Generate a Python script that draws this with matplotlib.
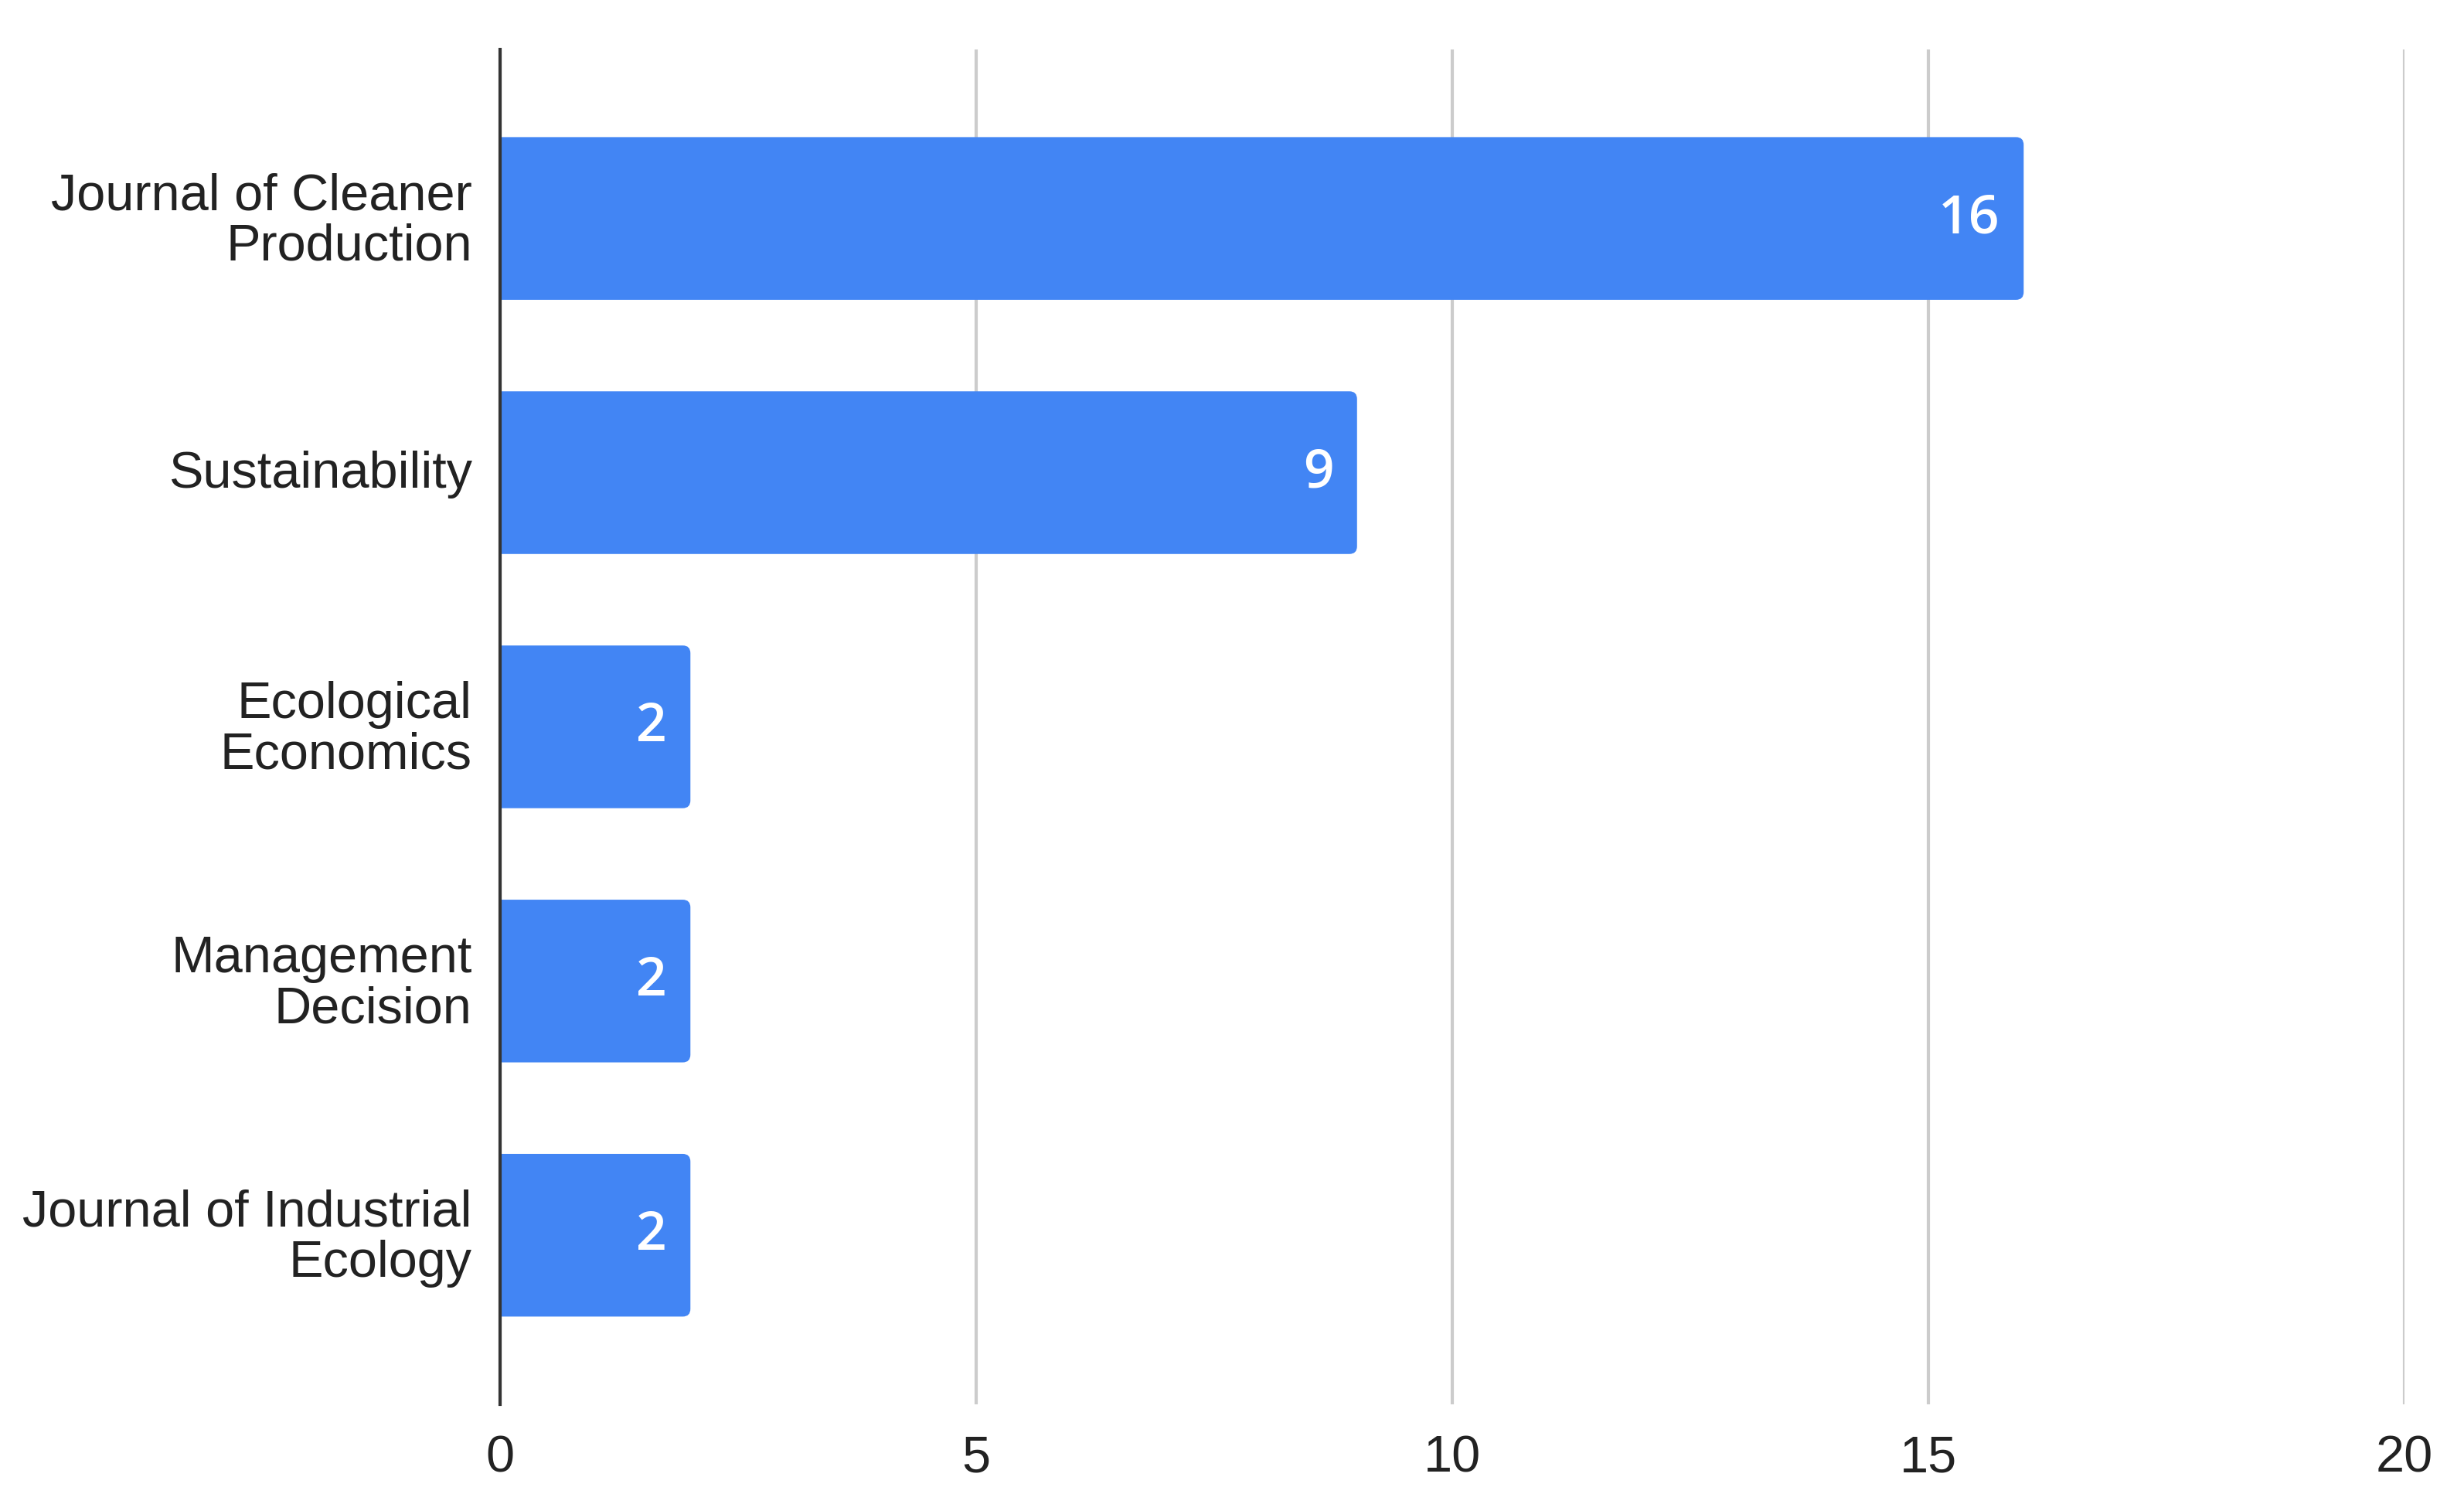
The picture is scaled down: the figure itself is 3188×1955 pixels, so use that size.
import matplotlib.pyplot as plt
import matplotlib.transforms as mtransforms
from matplotlib.patches import FancyBboxPatch

journals = ["Journal of Cleaner\nProduction", "Sustainability", "Ecological\nEconomics",
            "Management\nDecision", "Journal of Industrial\nEcology"]
counts = [16, 9, 2, 2, 2]
xticks = [0, 5, 10, 15, 20]

plt.rcParams['font.family'] = ['Liberation Sans', 'DejaVu Sans']

fig = plt.figure(figsize=(15.94, 9.78), dpi=200)
ax = fig.add_axes([0.2029, 0.0706, 0.773, 0.8962])

ypos = list(range(len(journals)))
bar_h = 0.64
bars = ax.barh(ypos, counts, height=bar_h, color="#4285F4", zorder=3)

# swap plain bars for ones with rounded right corners (left side hidden under the axis)
for b in bars:
    b.set_visible(False)
    x0, y0 = b.get_x(), b.get_y()
    w, h = b.get_width(), b.get_height()
    p = FancyBboxPatch((x0 - 0.2, y0), w + 0.2, h,
                       boxstyle="round,pad=0,rounding_size=0.08",
                       mutation_aspect=0.38, facecolor="#4285F4",
                       edgecolor="none", zorder=3)
    ax.add_patch(p)

for y, v in zip(ypos, counts):
    ax.annotate(str(v), (v, y), xytext=(-11, 0), textcoords="offset points",
                ha="right", va="center", color="white", fontsize=25,
                fontweight="semibold",
                family=["Open Sans", "DejaVu Sans"], zorder=4)

ax.set_xlim(0, 20)
ax.set_ylim(4.665, -0.665)
ax.set_xticks(xticks)
ax.set_yticks(ypos)
ax.set_yticklabels(journals, fontsize=24, linespacing=1.08)
ax.tick_params(axis="x", labelsize=24, length=0, pad=14, colors="#222222")
ax.tick_params(axis="y", length=0, pad=13, colors="#222222")

# nudge category labels up a touch
shift = mtransforms.ScaledTranslation(0, 2 / 72, fig.dpi_scale_trans)
for lbl in ax.get_yticklabels():
    lbl.set_transform(lbl.get_transform() + shift)

ax.grid(axis="x", color="#cccccc", linewidth=1.5, zorder=0)
for s in ["top", "right", "bottom"]:
    ax.spines[s].set_visible(False)
ax.spines["left"].set_color("#333333")
ax.spines["left"].set_linewidth(1.5)
ax.spines["left"].set_zorder(5)

fig.savefig("out.png", dpi=200, facecolor="white")
